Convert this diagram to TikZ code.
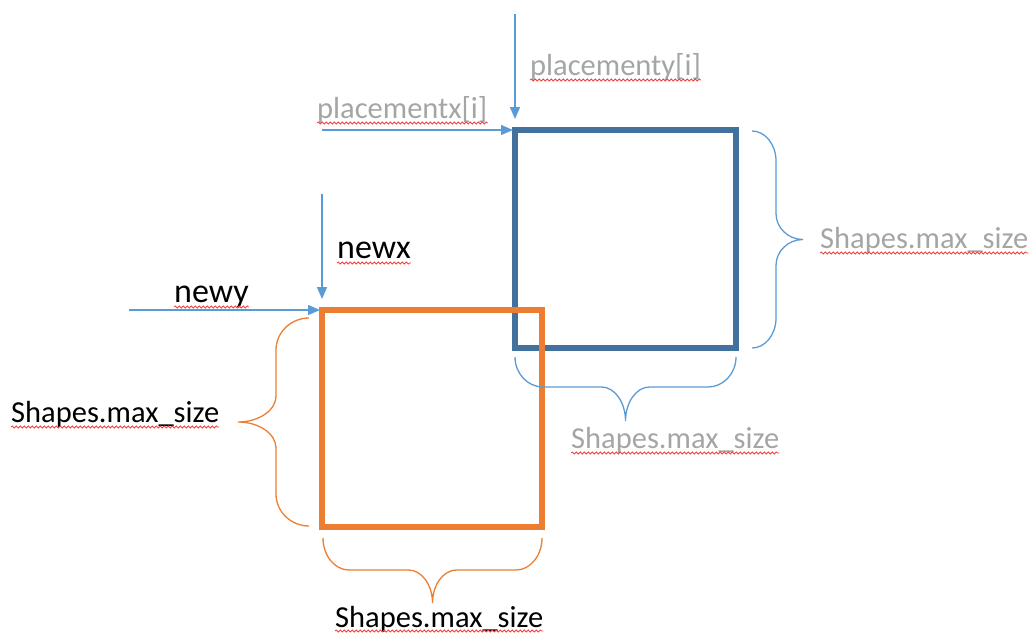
\documentclass[tikz,border=0pt]{standalone}
\usepackage{fontspec}
\setmainfont{Carlito}
\usetikzlibrary{arrows.meta,decorations.pathmorphing}

\definecolor{boxblue}{HTML}{41719C}
\definecolor{boxorange}{HTML}{ED7D31}
\definecolor{lineblue}{HTML}{5B9BD5}
\definecolor{textgray}{HTML}{A5A5A5}
\definecolor{spellred}{HTML}{F04040}

% horizontal curly brace: style, x1, x2, end y, middle-line y, tip y, end radius, tip radius
\newcommand{\hbrace}[8]{%
  \draw[#1] (#2,#4) .. controls (#2,{#4+0.55*(#5-#4)}) and ({#2+0.45*#7},#5) .. ({#2+#7},#5)
    -- ({(#2+#3)/2-#8},#5) .. controls ({(#2+#3)/2-0.45*#8},#5) and ({(#2+#3)/2},{#6-0.55*(#6-#5)}) .. ({(#2+#3)/2},#6)
    .. controls ({(#2+#3)/2},{#6-0.55*(#6-#5)}) and ({(#2+#3)/2+0.45*#8},#5) .. ({(#2+#3)/2+#8},#5)
    -- ({#3-#7},#5) .. controls ({#3-0.45*#7},#5) and (#3,{#4+0.55*(#5-#4)}) .. (#3,#4);}
% vertical curly brace: style, y1, y2, end x, middle-line x, tip x, end radius, tip radius
\newcommand{\vbrace}[8]{%
  \draw[#1] (#4,#2) .. controls ({#4+0.55*(#5-#4)},#2) and (#5,{#2+0.45*#7}) .. (#5,{#2+#7})
    -- (#5,{(#2+#3)/2-#8}) .. controls (#5,{(#2+#3)/2-0.45*#8}) and ({#6-0.55*(#6-#5)},{(#2+#3)/2}) .. (#6,{(#2+#3)/2})
    .. controls ({#6-0.55*(#6-#5)},{(#2+#3)/2}) and (#5,{(#2+#3)/2+0.45*#8}) .. (#5,{(#2+#3)/2+#8})
    -- (#5,{#3-#7}) .. controls (#5,{#3-0.45*#7}) and ({#4+0.55*(#5-#4)},#3) .. (#4,#3);}

\begin{document}
\begin{tikzpicture}[x=1pt,y=-1pt,
  lbl/.style={inner sep=0pt,anchor=base west,font=\fontsize{30.5}{36}\selectfont},
  biglbl/.style={lbl,font=\fontsize{34}{40}\selectfont},
  graytext/.style={text=textgray},
  arr/.style={lineblue,line width=1.5pt,-{Triangle[length=12pt,width=10pt]}},
  sq/.style={line width=5.5pt,line join=miter},
  obrace/.style={boxorange,line width=1.3pt},
  bbrace/.style={lineblue,line width=1.3pt},
  spell/.style={spellred,line width=0.8pt,decorate,
    decoration={snake,segment length=4pt,amplitude=1pt}}]
\useasboundingbox (0,0) rectangle (1032,637);

% squares
\draw[sq,boxblue] (515,130) rectangle (736,348);
\draw[sq,boxorange] (322,310) rectangle (542,527);

% braces
\vbrace{obrace}{318}{526}{309}{276}{238}{32}{26}
\hbrace{obrace}{323}{542}{538}{570}{603}{26}{24}
\vbrace{bbrace}{131}{348}{752}{776}{803}{30}{26}
\hbrace{bbrace}{515}{736}{357}{387}{421}{28}{24}

% offset arrows
\coordinate (pyS) at (515,14);
\coordinate (pyE) at (515,119);
\coordinate (pxS) at (322,130);
\coordinate (pxE) at (513,130);
\coordinate (nxS) at (322,194);
\coordinate (nxE) at (322,299);
\coordinate (nyS) at (129,310);
\coordinate (nyE) at (320,310);
\draw[arr] (pyS) -- (pyE);
\draw[arr] (pxS) -- (pxE);
\draw[arr] (nxS) -- (nxE);
\draw[arr] (nyS) -- (nyE);

% labels
\node[lbl,graytext] (py) at (530,75) {placementy[i]};
\node[lbl,graytext] (px) at (317,118) {placementx[i]};
\node[biglbl] (nx) at (337,258) {newx};
\node[biglbl] (ny) at (174,302) {newy};
\node[lbl] (ol) at (11,422) {Shapes.max\_size};
\node[lbl] (ob) at (335,627) {Shapes.max\_size};
\node[lbl,graytext] (br) at (820,248) {Shapes.max\_size};
\node[lbl,graytext] (bb) at (571,448) {Shapes.max\_size};

% spell-check underlines
\foreach \n in {py,px,nx,ny,ol,br,bb}
  \draw[spell] ([yshift=-5pt]\n.base west) -- ([yshift=-5pt]\n.base east);
\draw[spell] ([yshift=-4pt]ob.base west) -- ([yshift=-4pt]ob.base east);
\end{tikzpicture}
\end{document}
